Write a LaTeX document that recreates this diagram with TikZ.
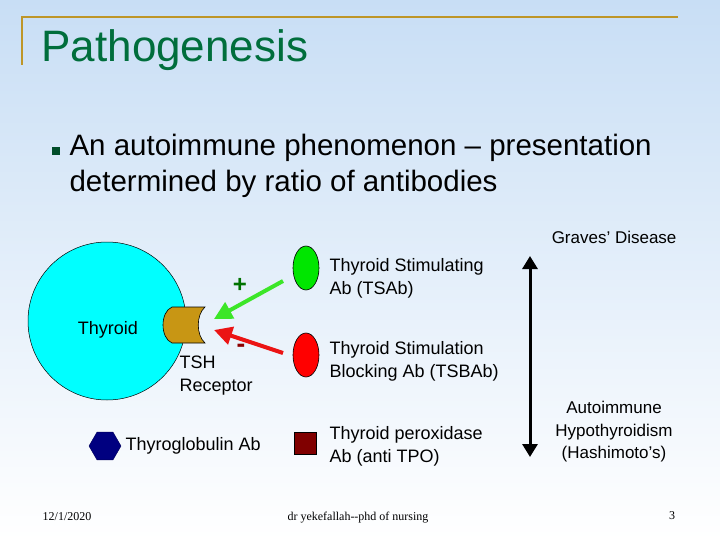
\documentclass[tikz,border=0pt]{standalone}
\usepackage{fontspec}
\setmainfont{Liberation Sans}
\newfontfamily\serifft{Liberation Serif}
\usetikzlibrary{shapes.geometric,arrows.meta}
\definecolor{titlegreen}{RGB}{0,110,60}
\definecolor{gold}{RGB}{190,150,40}
\definecolor{recep}{RGB}{200,150,20}
\tikzset{
 lbl/.style={font=\fontsize{18}{23}\selectfont, align=left, anchor=west},
 ab/.style={draw=black, line width=0.6pt},
 bigarrow/.style={line width=4pt, -{Triangle[length=18pt,width=18pt]}},
}
\begin{document}
\begin{tikzpicture}[x=1pt,y=-1pt]
\useasboundingbox (0,0) rectangle (720,540);
\shade[top color={rgb,255:red,200;green,222;blue,245}, bottom color=white] (0,0) rectangle (720,540);
\draw[gold, line width=2.5pt] (22,65) -- (22,17) -- (678,17);
\node[anchor=west, text=titlegreen, font=\fontsize{44}{48}\selectfont] (title) at (38,50) {Pathogenesis};
\node[fill=titlegreen!70!black, minimum size=8pt, inner sep=0pt] (bul) at (56,151) {};
\node[anchor=north west, align=left, font=\fontsize{29.5}{36}\selectfont] (txt) at (66,131) {An autoimmune phenomenon -- presentation\\determined by ratio of antibodies};
% thyroid
\node[circle, draw=black, fill={rgb,255:red,0;green,255;blue,255}, minimum size=158pt, inner sep=0pt, line width=0.5pt] (thy) at (107,321) {};
\node[font=\fontsize{18}{20}\selectfont] (thyl) at (108,330) {Thyroid};
\draw[ab, fill=recep] (172,307) -- (205,307) .. controls (196,315) and (196,335) .. (205,343) -- (172,343) .. controls (160,338) and (160,312) .. (172,307) -- cycle;
\node[lbl, anchor=north west] (tsh) at (176,352) {TSH\\Receptor};
% antibodies
\node[ellipse, ab, fill={rgb,255:red,0;green,230;blue,0}, minimum width=26pt, minimum height=44pt, inner sep=0pt] (tsab) at (306,268) {};
\node[ellipse, ab, fill=red, minimum width=26pt, minimum height=44pt, inner sep=0pt] (tsbab) at (306,355) {};
\node[ab, fill={rgb,255:red,128;green,0;blue,0}, minimum size=22pt, inner sep=0pt] (tpo) at (305,443) {};
\node[regular polygon, regular polygon sides=6, fill={rgb,255:red,0;green,0;blue,128}, draw={rgb,255:red,0;green,0;blue,90}, minimum size=32pt, inner sep=0pt] (tg) at (105,446) {};
\node[lbl] (l1) at (326,278) {Thyroid Stimulating\\Ab (TSAb)};
\node[lbl] (l2) at (326,361) {Thyroid Stimulation\\Blocking Ab (TSBAb)};
\node[lbl] (l3) at (326,446) {Thyroid peroxidase\\Ab (anti TPO)};
\node[lbl] (l4) at (122,446) {Thyroglobulin Ab};
% arrows
\coordinate (ga) at (283,281);
\coordinate (gb) at (214,319);
\coordinate (ra) at (283,353);
\coordinate (rb) at (214,330);
\draw[bigarrow, color={rgb,255:red,60;green,230;blue,40}] (ga) -- (gb);
\draw[bigarrow, color={rgb,255:red,235;green,20;blue,20}] (ra) -- (rb);
\node[text=green!45!black, font=\bfseries\fontsize{24}{24}\selectfont] (plus) at (240,285) {+};
\node[text=red!55!black, font=\bfseries\fontsize{26}{26}\selectfont] (minus) at (241,348) {-};
% double arrow
\coordinate (dt) at (530,256);
\coordinate (db) at (530,457);
\draw[line width=3pt, {Triangle[length=13pt,width=15pt]}-{Triangle[length=13pt,width=15pt]}] (dt) -- (db);
\node[anchor=east, font=\fontsize{17}{19}\selectfont] (gd) at (680,237) {Graves' Disease};
\node[align=center, font=\fontsize{17}{22.5}\selectfont] (hd) at (614,432) {Autoimmune\\Hypothyroidism\\(Hashimoto's)};
% footer
\node[font=\serifft\fontsize{12}{14}\selectfont] (f1) at (67,517) {12/1/2020};
\node[font=\serifft\fontsize{12}{14}\selectfont] (f2) at (358,518) {dr yekefallah--phd of nursing};
\node[font=\serifft\fontsize{12}{14}\selectfont] (f3) at (672,516) {3};
\end{tikzpicture}
\end{document}
